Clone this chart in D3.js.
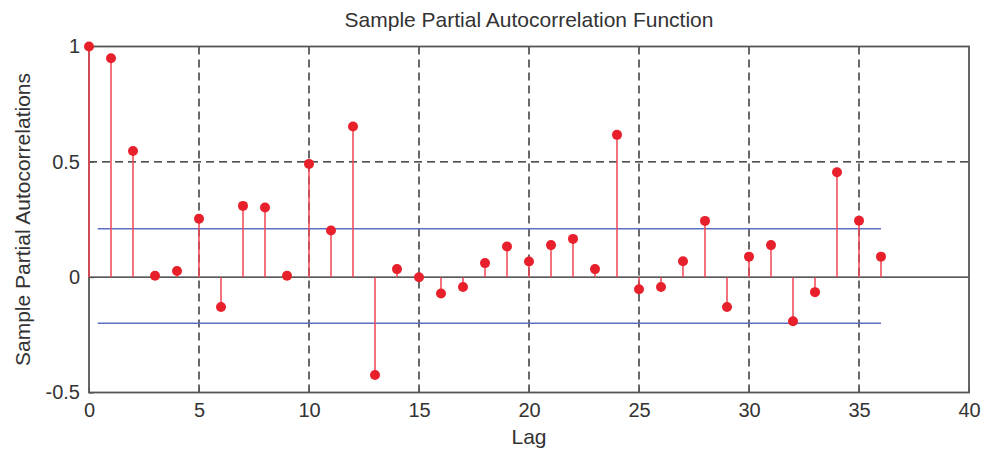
<!DOCTYPE html>
<html>
<head>
<meta charset="utf-8">
<script src="https://cdnjs.cloudflare.com/ajax/libs/d3/7.8.5/d3.min.js"></script>
<style>
  body { margin: 0; background: #fff; }
  text { font-family: "Liberation Sans", Arial, sans-serif; fill: #333; }
</style>
</head>
<body>
<script>
// lags 0..36
var lags = d3.range(0, 37);
// sample partial autocorrelations
var pacf = [1, 0.949, 0.547, 0.006, 0.027, 0.253, -0.129, 0.309, 0.302, 0.006,
            0.491, 0.202, 0.653, -0.424, 0.035, 0.0, -0.071, -0.043, 0.061, 0.133,
            0.068, 0.139, 0.166, 0.035, 0.617, -0.052, -0.043, 0.069, 0.244, -0.129,
            0.089, 0.139, -0.191, -0.065, 0.455, 0.245, 0.089];
// confidence bounds
var bounds = [0.21, -0.20];
var boundStart = 0.4, boundEnd = 36;
var xTicks = [0, 5, 10, 15, 20, 25, 30, 35, 40];
var yTicks = [-0.5, 0, 0.5, 1];

var W = 986, H = 451;
var margin = {left: 89, right: 17, top: 46.5, bottom: 58.5};

var svg = d3.select("body").append("svg")
  .attr("width", W).attr("height", H);

var x = d3.scaleLinear().domain([0, 40]).range([margin.left, W - margin.right]);
var y = d3.scaleLinear().domain([-0.5, 1]).range([H - margin.bottom, margin.top]);

// dashed grid
svg.append("g").selectAll("line")
  .data(xTicks.slice(1, -1))
  .enter().append("line")
  .attr("x1", d => x(d)).attr("x2", d => x(d))
  .attr("y1", y(1)).attr("y2", y(-0.5))
  .attr("stroke", "#1a1a1a").attr("stroke-width", 1.3)
  .attr("stroke-dasharray", "8,5");

svg.append("line")
  .attr("x1", x(0)).attr("x2", x(40))
  .attr("y1", y(0.5)).attr("y2", y(0.5))
  .attr("stroke", "#1a1a1a").attr("stroke-width", 1.3)
  .attr("stroke-dasharray", "8,5");

// zero line
svg.append("line")
  .attr("x1", x(0)).attr("x2", x(40))
  .attr("y1", y(0)).attr("y2", y(0))
  .attr("stroke", "#222").attr("stroke-width", 1.4);

// box
svg.append("rect")
  .attr("x", x(0)).attr("y", y(1))
  .attr("width", x(40) - x(0)).attr("height", y(-0.5) - y(1))
  .attr("fill", "none").attr("stroke", "#555").attr("stroke-width", 1.8);

// axes, ticks inside
var xAxis = d3.axisBottom(x).tickValues(xTicks).tickSize(-5).tickPadding(10).tickFormat(d3.format("d"));
var gx = svg.append("g").attr("transform", "translate(0," + y(-0.5) + ")").call(xAxis);
gx.select(".domain").remove();
gx.selectAll("line").attr("stroke", "#555");
gx.selectAll("text").style("font-size", "20px").attr("fill", "#333");

var yAxis = d3.axisLeft(y).tickValues(yTicks).tickSize(-5).tickPadding(9).tickFormat(d => d);
var gy = svg.append("g").attr("transform", "translate(" + x(0) + ",0)").call(yAxis);
gy.select(".domain").remove();
gy.selectAll("line").attr("stroke", "#555");
gy.selectAll("text").style("font-size", "20px").attr("fill", "#333");

// confidence bounds
svg.append("g").selectAll("line")
  .data(bounds)
  .enter().append("line")
  .attr("x1", x(boundStart)).attr("x2", x(boundEnd))
  .attr("y1", d => y(d)).attr("y2", d => y(d))
  .attr("stroke", "#5b6fc4").attr("stroke-width", 1.4);

// stems and markers
var data = lags.map((l, i) => ({lag: l, v: pacf[i]}));
svg.append("g").selectAll("line")
  .data(data)
  .enter().append("line")
  .attr("x1", d => x(d.lag)).attr("x2", d => x(d.lag))
  .attr("y1", y(0)).attr("y2", d => y(d.v))
  .attr("stroke", "#ef4650").attr("stroke-width", 1.5);

svg.append("g").selectAll("circle")
  .data(data)
  .enter().append("circle")
  .attr("cx", d => x(d.lag)).attr("cy", d => y(d.v))
  .attr("r", 5)
  .attr("fill", "#e8202c");

// title and labels
svg.append("text")
  .attr("x", (x(0) + x(40)) / 2).attr("y", 27)
  .attr("text-anchor", "middle")
  .style("font-size", "21px")
  .text("Sample Partial Autocorrelation Function");

svg.append("text")
  .attr("x", (x(0) + x(40)) / 2).attr("y", 444)
  .attr("text-anchor", "middle")
  .style("font-size", "21px")
  .text("Lag");

svg.append("text")
  .attr("transform", "translate(30," + y(0.25) + ") rotate(-90)")
  .attr("text-anchor", "middle")
  .style("font-size", "21px")
  .text("Sample Partial Autocorrelations");
</script>
</body>
</html>
